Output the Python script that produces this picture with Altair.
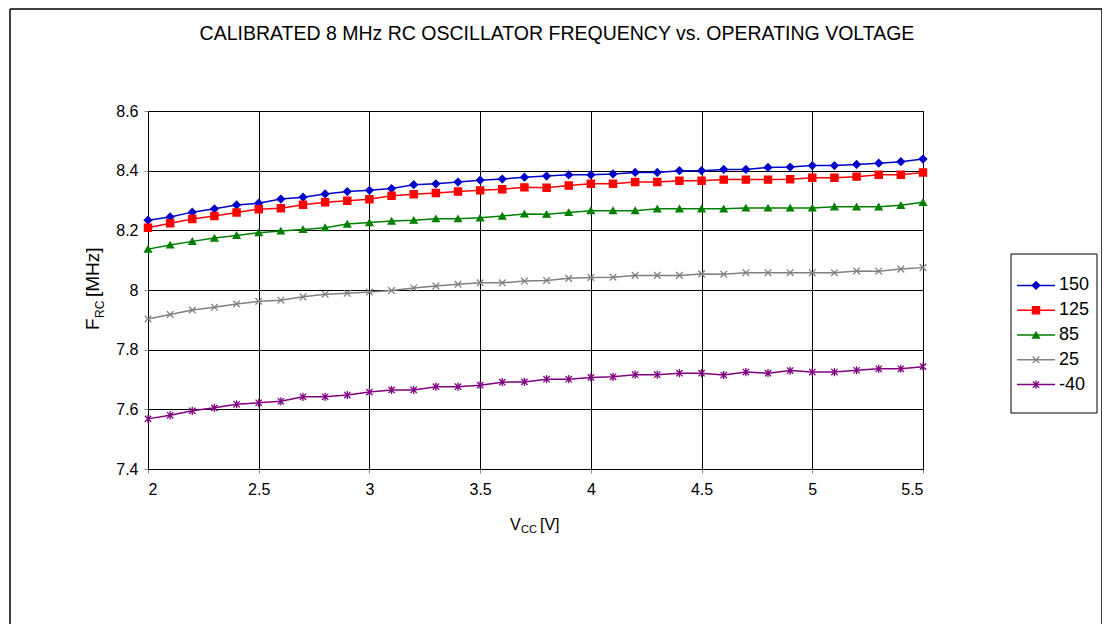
import altair as alt
import pandas as pd

volts = [2.0, 2.1, 2.2, 2.3, 2.4, 2.5, 2.6, 2.7, 2.8, 2.9, 3.0, 3.1, 3.2, 3.3, 3.4, 3.5, 3.6, 3.7,
         3.8, 3.9, 4.0, 4.1, 4.2, 4.3, 4.4, 4.5, 4.6, 4.7, 4.8, 4.9, 5.0, 5.1, 5.2, 5.3, 5.4, 5.5]

s150 = [8.234, 8.245, 8.261, 8.272, 8.285, 8.291, 8.305, 8.311, 8.322, 8.330, 8.334, 8.340, 8.353, 8.356, 8.362, 8.368, 8.372, 8.378,
        8.382, 8.386, 8.386, 8.389, 8.394, 8.394, 8.400, 8.400, 8.404, 8.404, 8.411, 8.412, 8.417, 8.417, 8.421, 8.425, 8.430, 8.439]
s125 = [8.209, 8.224, 8.238, 8.248, 8.260, 8.271, 8.274, 8.286, 8.294, 8.299, 8.304, 8.316, 8.321, 8.325, 8.330, 8.334, 8.338, 8.344,
        8.343, 8.350, 8.356, 8.356, 8.362, 8.362, 8.366, 8.366, 8.370, 8.370, 8.370, 8.371, 8.376, 8.376, 8.380, 8.386, 8.386, 8.394]
s85 = [8.137, 8.151, 8.163, 8.174, 8.183, 8.192, 8.198, 8.203, 8.209, 8.221, 8.226, 8.231, 8.234, 8.239, 8.239, 8.242, 8.248, 8.255,
       8.254, 8.260, 8.266, 8.266, 8.266, 8.272, 8.272, 8.272, 8.272, 8.275, 8.275, 8.275, 8.275, 8.279, 8.279, 8.279, 8.284, 8.294]
s25 = [7.903, 7.918, 7.933, 7.942, 7.953, 7.962, 7.966, 7.977, 7.986, 7.989, 7.993, 7.998, 8.007, 8.013, 8.019, 8.024, 8.024, 8.030,
       8.032, 8.039, 8.042, 8.043, 8.049, 8.049, 8.049, 8.054, 8.053, 8.058, 8.058, 8.058, 8.058, 8.058, 8.064, 8.063, 8.070, 8.075]
sm40 = [7.568, 7.580, 7.595, 7.605, 7.617, 7.622, 7.627, 7.642, 7.642, 7.648, 7.658, 7.665, 7.665, 7.676, 7.676, 7.681, 7.691, 7.692,
        7.701, 7.701, 7.707, 7.709, 7.716, 7.716, 7.721, 7.721, 7.715, 7.725, 7.721, 7.730, 7.725, 7.725, 7.731, 7.736, 7.736, 7.743]

series_names = ["150", "125", "85", "25", "-40"]
series_values = [s150, s125, s85, s25, sm40]
colors = ["#0000CC", "#FF0000", "#008000", "#808080", "#800080"]
shapes = ["diamond", "square", "triangle-up",
          "M-1,-1L1,1M-1,1L1,-1",
          "M-1,-1L1,1M-1,1L1,-1M0,-1.3L0,1.3"]
sizes = [55, 40, 45, 30, 36]

x_ticks = [2, 2.5, 3, 3.5, 4, 4.5, 5, 5.5]
y_ticks = [7.4, 7.6, 7.8, 8.0, 8.2, 8.4, 8.6]

title_text = "CALIBRATED 8 MHz RC OSCILLATOR FREQUENCY vs. OPERATING VOLTAGE"
FONT = "Liberation Sans"

rows = []
for name, vals in zip(series_names, series_values):
    for v, f in zip(volts, vals):
        rows.append({"series": name, "V": v, "F": f})
df = pd.DataFrame(rows)
legend_df = pd.DataFrame({"series": series_names})

W, H = 775, 358

color_scale = alt.Scale(domain=series_names, range=colors)
shape_scale = alt.Scale(domain=series_names, range=shapes)
size_scale = alt.Scale(domain=series_names, range=sizes)

x_enc = alt.X("V:Q", scale=alt.Scale(domain=[2, 5.5], nice=False, zero=False),
              axis=alt.Axis(values=x_ticks, format="~g", title=None, grid=True,
                            gridColor="black", gridWidth=1, domainColor="black",
                            tickColor="#888888", tickSize=4, labelPadding=8))
y_enc = alt.Y("F:Q", scale=alt.Scale(domain=[7.4, 8.6], nice=False, zero=False),
              axis=alt.Axis(values=y_ticks, format="~g", title=None, grid=True,
                            gridColor="black", gridWidth=1, domainColor="black",
                            tickColor="#888888", tickSize=4, labelPadding=6))

base = alt.Chart(df)
lines = base.mark_line(strokeWidth=1.5).encode(
    x=x_enc, y=y_enc, detail="series:N",
    color=alt.Color("series:N", scale=color_scale, legend=None),
)
points = base.mark_point(filled=True, strokeWidth=1.3, opacity=1).encode(
    x=alt.X("V:Q"), y=alt.Y("F:Q"),
    color=alt.Color("series:N", scale=color_scale, legend=None),
    stroke=alt.Stroke("series:N", scale=color_scale, legend=None),
    shape=alt.Shape("series:N", scale=shape_scale, legend=None),
    size=alt.Size("series:N", scale=size_scale, legend=None),
)
main = alt.layer(lines, points)

# legend (built from series list)
leg_box = alt.Chart(alt.Data(values=[{}])).mark_rect(fill="white", stroke="black", strokeWidth=1).encode(
    x=alt.value(863), x2=alt.value(949), y=alt.value(143), y2=alt.value(302))
leg_y = alt.Y("series:N", scale=alt.Scale(domain=series_names, range=[162, 286]), axis=None)
leg_rule = alt.Chart(legend_df).mark_rule(strokeWidth=1.5).encode(
    x=alt.value(869), x2=alt.value(907), y=leg_y,
    color=alt.Color("series:N", scale=color_scale, legend=None))
leg_pts = alt.Chart(legend_df).mark_point(filled=True, strokeWidth=1.3, opacity=1).encode(
    x=alt.value(888), y=leg_y,
    color=alt.Color("series:N", scale=color_scale, legend=None),
    stroke=alt.Stroke("series:N", scale=color_scale, legend=None),
    shape=alt.Shape("series:N", scale=shape_scale, legend=None),
    size=alt.Size("series:N", scale=size_scale, legend=None))
leg_txt = alt.Chart(legend_df).mark_text(align="left", baseline="middle", font=FONT,
                                         fontSize=18, color="black").encode(
    x=alt.value(911), y=leg_y, text="series:N")
legend = alt.layer(leg_box, leg_rule, leg_pts, leg_txt)

one = alt.Data(values=[{}])
def txt(s, x, y, size, angle=0, align="left", baseline="alphabetic"):
    return alt.Chart(one).mark_text(text=s, align=align, baseline=baseline, font=FONT,
                                    fontSize=size, angle=angle, color="black").encode(
        x=alt.value(x), y=alt.value(y))

title = txt(title_text, 409, -71, 19.5, align="center")

ytitle = alt.layer(
    txt("F", -49, 219, 19, 270),
    txt("RC", -44, 207, 12, 270),
    txt("[MHz]", -49, 186, 19, 270),
)
xtitle = alt.layer(
    txt("V", 362, 419, 16),
    txt("CC", 373, 422, 11),
    txt("[V]", 392, 419, 16),
)

frame = alt.layer(
    alt.Chart(one).mark_rule(color="black", strokeWidth=1.5).encode(
        x=alt.value(-138), y=alt.value(-102), y2=alt.value(520)),
    alt.Chart(one).mark_rule(color="black", strokeWidth=1.5).encode(
        x=alt.value(-138), x2=alt.value(954), y=alt.value(-102)),
    alt.Chart(one).mark_rule(color="black", strokeWidth=1.5).encode(
        x=alt.value(954), y=alt.value(-102), y2=alt.value(520)),
)

chart = alt.layer(main, legend, title, ytitle, xtitle, frame).resolve_scale(
    y="independent", x="independent"
).properties(
    width=W, height=H,
    autosize=alt.AutoSizeParams(type="none"),
    padding={"left": 140, "top": 103, "right": 179, "bottom": 155},
).configure_view(stroke="#888888", strokeWidth=1).configure_axis(
    labelFont=FONT, labelFontSize=16, labelColor="black"
)

chart.save("out.html", embed_options={"renderer": "svg", "actions": False})
